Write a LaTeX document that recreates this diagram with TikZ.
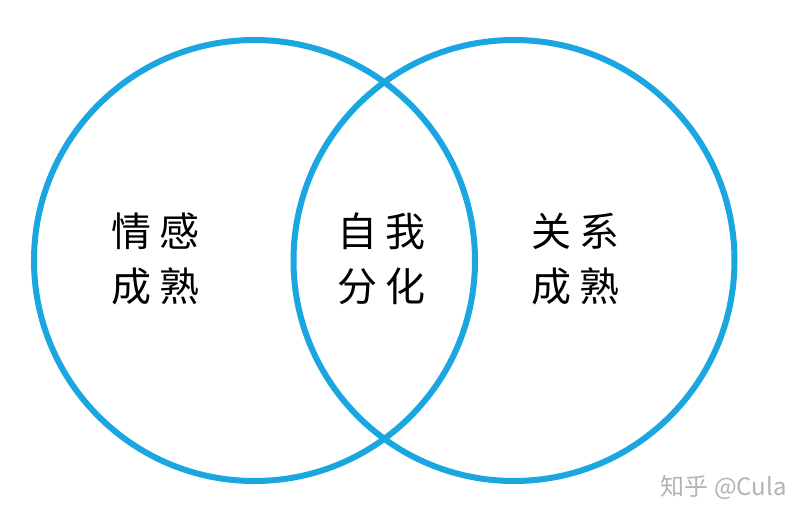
\documentclass[tikz,border=0pt]{standalone}
\usepackage{fontspec}
\newfontfamily\cjkfont{Noto Sans CJK SC}
\definecolor{vennblue}{RGB}{26,166,225}
\definecolor{markgrey}{RGB}{180,180,180}
\begin{document}
\begin{tikzpicture}[x=1pt,y=-1pt,
  ring/.style={draw=vennblue,line width=6pt},
  cjktext/.style={font=\cjkfont\fontsize{40}{55}\selectfont,align=center,inner sep=0pt},
  wmark/.style={font=\cjkfont\fontsize{24}{26}\selectfont,text=markgrey,inner sep=0pt,anchor=east}]
\useasboundingbox[fill=white] (0,0) rectangle (807,520);
\draw[ring] (254.5,260.5) circle[radius=220.5];
\draw[ring] (514,260.5) circle[radius=220.5];
\node[cjktext] (emo) at (155,259) {情\hspace{8pt}感\\成\hspace{8pt}熟};
\node[cjktext] (self) at (381,259) {自\hspace{8pt}我\\分\hspace{8pt}化};
\node[cjktext] (rel) at (575,259) {关\hspace{8pt}系\\成\hspace{8pt}熟};
\node[wmark] (wm) at (787,487.5) {知乎 @Cula};
\end{tikzpicture}
\end{document}
